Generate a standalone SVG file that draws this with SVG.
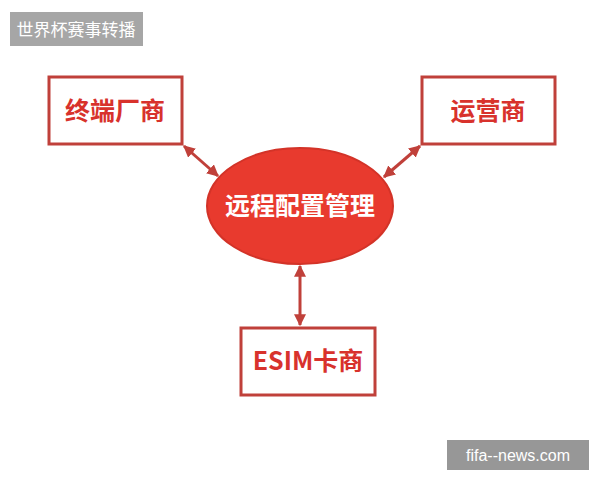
<svg xmlns="http://www.w3.org/2000/svg" width="600" height="480" viewBox="0 0 600 480">
<style>
.box{fill:#fff;stroke:#c0403a;stroke-width:3}
.t{font-family:"Noto Sans CJK SC",sans-serif;font-weight:bold;font-size:25px;fill:#d8322c;text-anchor:middle}
.c{stroke:#c0403a;stroke-width:3;fill:none;marker-start:url(#a);marker-end:url(#a)}
</style>
<defs><marker id="a" viewBox="0 0 10 10" refX="9" refY="5" markerWidth="4" markerHeight="4" orient="auto-start-reverse"><path d="M0,0L10,5L0,10z" fill="#c0403a"/></marker></defs>
<rect width="600" height="480" fill="#fff"/>
<g id="label"><rect x="10" y="12" width="133" height="34" fill="#a6a6a6"/><text x="76" y="36" font-family="Noto Sans CJK SC,sans-serif" font-size="17" fill="#fff" text-anchor="middle">世界杯赛事转播</text></g>
<g id="n1"><rect class="box" x="49" y="77" width="133" height="67"/><text class="t" x="115" y="120">终端厂商</text></g>
<g id="n2"><rect class="box" x="422" y="77" width="133" height="67"/><text class="t" x="488" y="120">运营商</text></g>
<g id="n3"><ellipse cx="300" cy="206" rx="93" ry="58" fill="#e83a2e" stroke="#d33328" stroke-width="2"/><text class="t" x="300" y="215" style="fill:#fff">远程配置管理</text></g>
<g id="n4"><rect class="box" x="241" y="328" width="134" height="67"/><text class="t" x="308" y="370">ESIM卡商</text></g>
<g id="wm"><rect x="447" y="440" width="142" height="30" fill="#8c8c8c" opacity="0.9"/><text x="518" y="461" font-family="Liberation Sans,sans-serif" font-size="16" fill="#fff" text-anchor="middle">fifa--news.com</text></g>
<g id="connectors">
<line class="c" x1="184" y1="146" x2="218" y2="176"/>
<line class="c" x1="420" y1="146" x2="384" y2="177"/>
<line class="c" x1="300" y1="266" x2="300" y2="325"/>
</g>
</svg>
